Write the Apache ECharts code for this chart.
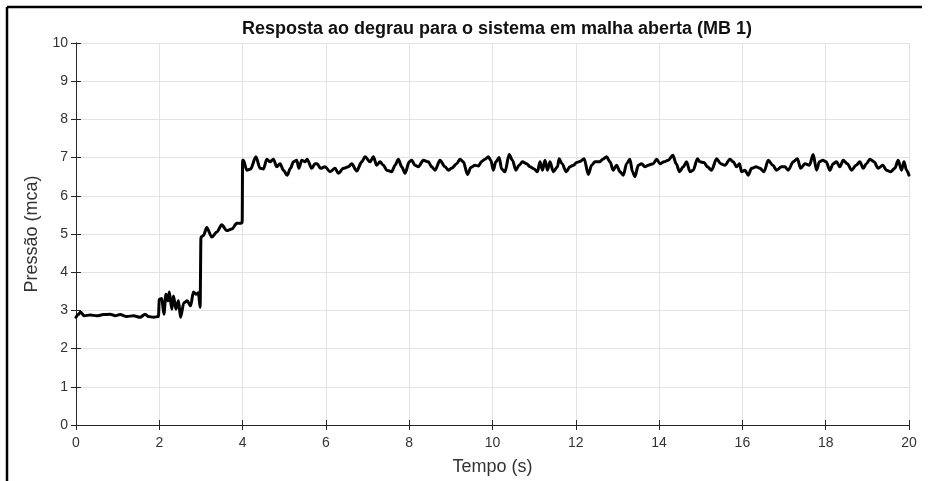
<!DOCTYPE html>
<html>
<head>
<meta charset="utf-8">
<title>Resposta ao degrau</title>
<script src="https://cdn.jsdelivr.net/npm/echarts@6/dist/echarts.min.js"></script>
<style>
  html, body { margin: 0; padding: 0; background: #fff; }
  #chart { width: 936px; height: 481px; }
</style>
</head>
<body>
<div id="chart"></div>
<script>
// Step response, open-loop system (MB 1): time [s] and pressure [mca]
const tempo = [
  0.00, 0.06, 0.11, 0.19, 0.34, 0.50, 0.66, 0.82, 0.94, 1.06, 1.22, 1.38, 1.54, 1.66, 1.74, 1.86, 1.98,
  2.00, 2.06, 2.11, 2.16, 2.21, 2.24, 2.30, 2.34, 2.40, 2.46, 2.51, 2.59, 2.67, 2.75, 2.82, 2.88, 2.94, 2.98,
  3.00, 3.06, 3.14, 3.26, 3.38, 3.50, 3.62, 3.74, 3.86, 3.95, 3.99,
  4.00, 4.02, 4.10, 4.19, 4.32, 4.42, 4.50, 4.58, 4.66, 4.74, 4.82, 4.90, 4.98, 5.07, 5.15, 5.22, 5.30, 5.35,
  5.42, 5.50, 5.55, 5.66, 5.74, 5.79, 5.87, 5.98, 6.10, 6.22, 6.30, 6.42, 6.54, 6.62, 6.74, 6.86, 6.94, 7.06,
  7.14, 7.22, 7.30, 7.38, 7.46, 7.58, 7.66, 7.74, 7.82, 7.90, 8.00, 8.06, 8.14, 8.22, 8.34, 8.46, 8.54, 8.62,
  8.74, 8.86, 8.94, 9.02, 9.14, 9.22, 9.30, 9.40,
  9.48, 9.58, 9.66, 9.74, 9.82, 9.90, 9.96, 10.02, 10.08, 10.16, 10.22, 10.30, 10.40, 10.48, 10.56, 10.64,
  10.72, 10.82, 10.90, 11.00, 11.08, 11.14, 11.20, 11.26, 11.32, 11.38, 11.46, 11.56, 11.60, 11.67, 11.77,
  11.86, 11.94, 12.02, 12.10, 12.20, 12.30, 12.38, 12.46, 12.57, 12.65, 12.74, 12.82, 12.90, 12.98, 13.06,
  13.14, 13.22, 13.30, 13.36, 13.42, 13.50, 13.58, 13.66, 13.74, 13.86, 13.94, 14.02, 14.12, 14.22, 14.33,
  14.41, 14.49, 14.58, 14.66, 14.74, 14.82, 14.92,
  14.98, 15.08, 15.16, 15.26, 15.38, 15.48, 15.58, 15.70, 15.78, 15.86, 15.93, 15.98, 16.06, 16.14, 16.22,
  16.33, 16.42, 16.52, 16.62, 16.73, 16.82, 16.94, 17.02, 17.10, 17.22, 17.32, 17.40, 17.50, 17.61, 17.70,
  17.78, 17.85, 17.93, 18.01, 18.10, 18.18, 18.26, 18.34, 18.42, 18.52, 18.62, 18.73, 18.82, 18.90, 18.98,
  19.06, 19.16, 19.26, 19.37, 19.46, 19.56, 19.66, 19.74, 19.82, 19.88, 19.94, 20.00
];

const pressao = [
  2.82, 2.90, 2.96, 2.86, 2.88, 2.86, 2.89, 2.90, 2.86, 2.89, 2.84, 2.86, 2.82, 2.90, 2.84, 2.82, 2.84,
  3.29, 3.31, 2.90, 3.42, 3.25, 3.48, 3.03, 3.38, 3.03, 3.25, 2.82, 3.20, 3.25, 3.12, 3.48, 3.42, 3.46, 3.08,
  4.92, 4.96, 5.17, 4.92, 5.05, 5.24, 5.09, 5.13, 5.28, 5.28, 5.30,
  6.93, 6.93, 6.67, 6.70, 7.02, 6.72, 6.70, 6.96, 6.89, 6.96, 6.76, 6.84, 6.67, 6.54, 6.72, 6.89, 6.93, 6.72,
  6.93, 6.89, 6.96, 6.72, 6.84, 6.84, 6.72, 6.76, 6.63, 6.72, 6.59, 6.72, 6.76, 6.84, 6.65, 6.89, 7.02, 6.89,
  7.02, 6.80, 6.89, 6.80, 6.67, 6.63, 6.80, 6.96, 6.76, 6.59, 6.89, 6.93, 6.80, 6.76, 6.93, 6.89, 6.76, 6.67,
  6.93, 6.76, 6.67, 6.72, 6.84, 6.96, 6.89, 6.56,
  6.74, 6.80, 6.78, 6.90, 6.96, 7.02, 6.93, 6.67, 6.89, 7.00, 6.70, 6.63, 7.08, 6.93, 6.67, 6.80,
  6.89, 6.84, 6.76, 6.70, 6.63, 6.89, 6.67, 6.93, 6.67, 6.89, 6.63, 6.76, 6.97, 6.84, 6.63,
  6.76, 6.80, 6.87, 6.90, 6.97, 6.56, 6.80, 6.89, 6.89, 6.96, 7.02, 6.89, 6.67, 6.80, 6.63,
  6.54, 6.84, 6.96, 6.63, 6.50, 6.80, 6.84, 6.76, 6.80, 6.84, 6.96, 6.84, 6.89, 6.93, 7.06,
  6.84, 6.63, 6.76, 6.89, 6.63, 6.67, 6.97,
  6.89, 6.87, 6.76, 6.67, 6.97, 6.84, 6.80, 6.96, 6.89, 6.76, 6.84, 6.63, 6.67, 6.54, 6.72,
  6.76, 6.72, 6.63, 6.93, 6.80, 6.67, 6.76, 6.76, 6.67, 6.89, 6.97, 6.72, 6.84, 6.80, 7.08,
  6.67, 6.89, 6.93, 6.89, 6.67, 6.84, 6.89, 6.76, 6.93, 6.84, 6.67, 6.80, 6.89, 6.72, 6.84,
  6.96, 6.89, 6.72, 6.80, 6.67, 6.63, 6.72, 6.93, 6.67, 6.89, 6.67, 6.54
];

const xTicks = [0, 2, 4, 6, 8, 10, 12, 14, 16, 18, 20];
const yTicks = [0, 1, 2, 3, 4, 5, 6, 7, 8, 9, 10];

const titulo = 'Resposta ao degrau para o sistema em malha aberta (MB 1)';
const rotuloX = 'Tempo (s)';
const rotuloY = 'Pressão (mca)';

const FONT = '"Liberation Sans", Arial, Helvetica, sans-serif';
const AXIS_COLOR = '#262626';
const LABEL_COLOR = '#333333';
const GRID_COLOR = '#e3e3e3';

const serie = tempo.map((t, i) => [t, pressao[i]]);

const xMin = xTicks[0], xMax = xTicks[xTicks.length - 1];
const yMin = yTicks[0], yMax = yTicks[yTicks.length - 1];
const xStep = xTicks[1] - xTicks[0];
const yStep = yTicks[1] - yTicks[0];

const baseAxisLine = { show: true, lineStyle: { color: AXIS_COLOR, width: 1 } };
const baseTick = { show: true, inside: true, length: 5, lineStyle: { color: AXIS_COLOR, width: 1 } };

const chart = echarts.init(document.getElementById('chart'), null, { renderer: 'canvas' });

chart.setOption({
  backgroundColor: '#ffffff',
  animation: false,
  title: {
    text: titulo,
    left: 492,
    textAlign: 'center',
    top: 15,
    textStyle: { fontFamily: FONT, fontSize: 18, fontWeight: 'bold', color: '#111' }
  },
  grid: { left: 76, right: 27, top: 43, bottom: 50, containLabel: false },
  xAxis: [
    {
      type: 'value', min: xMin, max: xMax, interval: xStep,
      position: 'bottom',
      name: rotuloX, nameLocation: 'middle', nameGap: 33,
      nameTextStyle: { fontFamily: FONT, fontSize: 18, color: LABEL_COLOR },
      axisLine: baseAxisLine, axisTick: baseTick,
      axisLabel: { fontFamily: FONT, fontSize: 14, color: LABEL_COLOR, margin: 11 },
      splitLine: { show: true, lineStyle: { color: GRID_COLOR, width: 1 } }
    },
    {
      type: 'value', min: xMin, max: xMax, interval: xStep,
      position: 'top',
      axisLine: baseAxisLine, axisTick: baseTick,
      axisLabel: { show: false }, splitLine: { show: false }
    }
  ],
  yAxis: [
    {
      type: 'value', min: yMin, max: yMax, interval: yStep,
      position: 'left',
      name: rotuloY, nameLocation: 'middle', nameGap: 31, nameRotate: 90,
      nameTextStyle: { fontFamily: FONT, fontSize: 18, color: LABEL_COLOR },
      axisLine: baseAxisLine, axisTick: baseTick,
      axisLabel: { fontFamily: FONT, fontSize: 14, color: LABEL_COLOR, margin: 8 },
      splitLine: { show: true, lineStyle: { color: GRID_COLOR, width: 1 } }
    },
    {
      type: 'value', min: yMin, max: yMax, interval: yStep,
      position: 'right',
      axisLine: baseAxisLine, axisTick: baseTick,
      axisLabel: { show: false }, splitLine: { show: false }
    }
  ],
  series: [
    {
      type: 'line',
      data: serie,
      xAxisIndex: 0,
      yAxisIndex: 0,
      showSymbol: false,
      smooth: 0.3,
      smoothMonotone: 'x',
      lineStyle: { color: '#000', width: 3, cap: 'round', join: 'round' },
      z: 5
    }
  ],
  graphic: [
    { type: 'line', shape: { x1: 7, y1: 7, x2: 922, y2: 7 }, style: { stroke: '#000', lineWidth: 2.5 }, silent: true },
    { type: 'line', shape: { x1: 7, y1: 7, x2: 7, y2: 481 }, style: { stroke: '#000', lineWidth: 2.5 }, silent: true }
  ]
});
</script>
</body>
</html>
